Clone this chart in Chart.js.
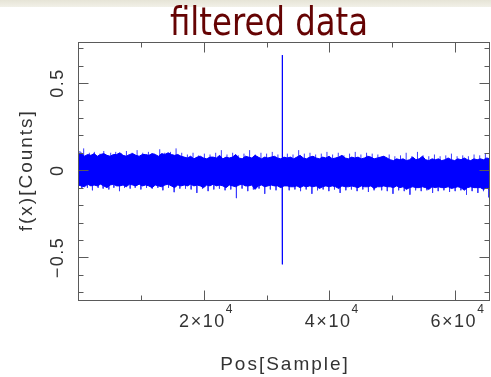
<!DOCTYPE html>
<html>
<head>
<meta charset="utf-8">
<script src="https://cdn.jsdelivr.net/npm/chart.js@4/dist/chart.umd.min.js"></script>
<style>
html,body{margin:0;padding:0;background:#fff;overflow:hidden}
canvas{display:block}
</style>
</head>
<body>
<canvas id="chart" width="491" height="377"></canvas>
<script>
/* ================= DATA ================= */

const chartTitle="filtered data";
const xTitle="Pos[Sample]";
const yTitle="f(x)[Counts]";

const xMin=0, xMax=65536;
const yMin=-0.75, yMax=0.735;

// tick values
const xMajor=[0,20000,40000,60000];
const xMinor=[10000,30000,50000];
const xTickLabels=[{v:20000,m:"2",e:"4"},{v:40000,m:"4",e:"4"},{v:60000,m:"6",e:"4"}];
const yMajor=[-0.5,0,0.5];
const yMinor=[-0.7,-0.6,-0.4,-0.3,-0.2,-0.1,0.1,0.2,0.3,0.4,0.6,0.7];
const yTickLabels=[{v:0.5,t:"0.5"},{v:0,t:"0"},{v:-0.5,t:"\u22120.5"}];

// noise envelope, read column by column across the plot (left -> right)
const bandUpper=[
0.09,0.1,0.08,0.09,0.085,0.095,0.08,0.09,0.095,0.085,0.08,0.09,0.09,0.1,0.085,0.08,0.09,0.095,0.085,0.08,0.09,0.09,0.085,0.095,0.09,0.08,0.095,0.09,0.1,0.09,0.085,0.09,0.08,
0.075,0.07,0.08,0.065,0.075,0.08,0.07,0.065,0.075,0.075,0.07,0.085,0.065,0.075,0.07,0.075,0.09,0.07,0.065,0.08,0.075,0.07,0.085,0.075,0.065,0.075,0.07,0.075,0.08,0.07,0.065,0.075,
0.07,0.075,0.065,0.075,0.085,0.07,0.065,0.075,0.08,0.07,0.065,0.075,0.07,0.08,0.065,0.07,0.075,0.085,0.07,0.065,0.075,0.07,0.075,0.065,0.07,0.08,0.075,0.065,0.07,0.075,0.08,0.07,
0.06,0.055,0.065,0.06,0.065,0.055,0.06,0.075,0.06,0.065,0.08,0.06,0.055,0.065,0.06,0.065,0.055,0.06,0.07,0.06,0.055,0.065,0.06,0.07,0.06,0.055,0.065,0.06,0.065,0.06,0.07,0.065
];
const bandLower=[
-0.085,-0.09,-0.095,-0.08,-0.09,-0.085,-0.09,-0.08,-0.09,-0.1,-0.085,-0.08,-0.09,-0.09,-0.085,-0.095,-0.08,-0.085,-0.09,-0.08,-0.09,-0.085,-0.09,-0.1,-0.085,-0.09,-0.095,-0.085,-0.08,-0.09,-0.1,-0.085,-0.09,
-0.085,-0.09,-0.08,-0.09,-0.085,-0.09,-0.1,-0.085,-0.09,-0.08,-0.09,-0.085,-0.09,-0.1,-0.085,-0.09,-0.095,-0.085,-0.08,-0.09,-0.09,-0.085,-0.11,-0.09,-0.085,-0.095,-0.09,-0.085,-0.09,-0.09,-0.1,-0.09,
-0.09,-0.095,-0.095,-0.09,-0.1,-0.09,-0.095,-0.09,-0.095,-0.09,-0.105,-0.095,-0.09,-0.095,-0.09,-0.095,-0.105,-0.09,-0.095,-0.095,-0.09,-0.095,-0.1,-0.09,-0.095,-0.095,-0.09,-0.105,-0.095,-0.095,-0.09,-0.095,
-0.095,-0.1,-0.09,-0.1,-0.095,-0.11,-0.1,-0.095,-0.1,-0.1,-0.095,-0.1,-0.11,-0.095,-0.1,-0.095,-0.1,-0.1,-0.095,-0.105,-0.1,-0.095,-0.1,-0.115,-0.1,-0.095,-0.1,-0.1,-0.1,-0.11,-0.1,-0.115
];

// single-sample excursions sticking out of the band
const whiskerUpX=[300,900,1800,2600,3500,4100,5200,6000,6900,7700,8600,9400,10300,11200,12100,13000,13800,14700,15600,16500,
17400,18300,19200,20100,21000,21900,22800,23700,24600,25500,26400,27300,28200,29100,30000,30900,31800,
33300,34200,35100,36000,36900,37800,38700,39600,40500,41400,42300,43200,44100,45000,45900,46800,47700,
48600,49500,50400,51300,52200,53100,54000,54900,55800,56700,57600,58500,59400,60300,61200,62100,63000,63900,64800];
const whiskerUpY=[0.11,0.125,0.1,0.105,0.095,0.11,0.1,0.105,0.095,0.11,0.1,0.115,0.1,0.105,0.095,0.12,0.1,0.105,0.125,0.1,
0.09,0.1,0.085,0.095,0.09,0.1,0.115,0.09,0.1,0.085,0.095,0.115,0.09,0.1,0.095,0.105,0.09,
0.095,0.09,0.115,0.095,0.1,0.09,0.095,0.105,0.09,0.1,0.085,0.095,0.105,0.09,0.1,0.095,0.09,
0.08,0.09,0.08,0.085,0.1,0.08,0.105,0.085,0.08,0.09,0.08,0.085,0.095,0.08,0.085,0.08,0.09,0.085,0.095];
const whiskerDnX=[600,1500,2300,3200,4000,4900,5700,6600,7400,8300,9100,10000,10900,11800,12700,13500,14400,15300,16200,
17100,18000,18900,19800,20700,21600,22500,23400,24300,25200,26100,27000,27900,28800,29700,30600,31500,
33600,34500,35400,36300,37200,38100,39000,39900,40800,41700,42600,43500,44400,45300,46200,47100,
48300,49200,50100,51000,51900,52800,53700,54600,55500,56400,57300,58200,59100,60000,60900,61800,62700,63600,64500,65300];
const whiskerDnY=[-0.105,-0.1,-0.115,-0.1,-0.105,-0.11,-0.1,-0.12,-0.1,-0.105,-0.1,-0.11,-0.1,-0.105,-0.1,-0.115,-0.1,-0.126,-0.105,
-0.105,-0.11,-0.13,-0.105,-0.12,-0.11,-0.105,-0.115,-0.11,-0.16,-0.105,-0.12,-0.11,-0.105,-0.135,-0.11,-0.115,
-0.115,-0.11,-0.12,-0.11,-0.135,-0.115,-0.11,-0.12,-0.11,-0.13,-0.115,-0.11,-0.12,-0.11,-0.125,-0.115,
-0.115,-0.12,-0.135,-0.115,-0.12,-0.14,-0.115,-0.12,-0.115,-0.13,-0.12,-0.115,-0.125,-0.12,-0.115,-0.14,-0.12,-0.13,-0.12,-0.155];

// the single spike near the middle
const spikeX=[32470,32500,32500,32500,32530];
const spikeY=[0.02,0.18,0.66,-0.54,-0.02];


/* ================= HELPERS ================= */

const AXIS_COLOR="#5a5a5a";
const TEXT_COLOR="#333333";
const LABEL_FONT='"Liberation Sans", Arial, sans-serif';

function fitText(ctx,text,cx,y,w){
const m=ctx.measureText(text).width;
ctx.save();
ctx.translate(cx,y);
ctx.scale(w/m,1);
ctx.textAlign="center";
ctx.fillText(text,0,0);
ctx.restore();
}

// each excursion becomes its own vertical stroke from the band centre
function whiskerPoints(xs,ys){
const pts=[];
xs.forEach((x,i)=>{
pts.push({x,y:0},{x,y:ys[i]},{x,y:null});
});
return pts;
}

const backdrop={
id:"backdrop",
beforeDraw(chart){
const ctx=chart.ctx;
ctx.save();
ctx.fillStyle="#ffffff";
ctx.fillRect(0,0,chart.width,chart.height);
const g=ctx.createLinearGradient(0,0,0,8);
g.addColorStop(0,"#e6e4d6");
g.addColorStop(1,"#f3f2ea");
ctx.fillStyle=g;
ctx.fillRect(0,0,chart.width,7);
ctx.restore();
}
};

const frame={
id:"frame",
afterDraw(chart){
const ctx=chart.ctx;
const a=chart.chartArea;
const xs=chart.scales.x, ys=chart.scales.y;
const L=Math.round(a.left)+0.5, R=Math.round(a.right)-0.5;
const T=Math.round(a.top)+0.5, B=Math.round(a.bottom)-0.5;

ctx.save();
ctx.strokeStyle=AXIS_COLOR;
ctx.lineWidth=1;
ctx.strokeRect(L,T,R-L,B-T);

ctx.beginPath();
const xt=(v,len)=>{
const px=Math.round(xs.getPixelForValue(v))+0.5;
ctx.moveTo(px,B);ctx.lineTo(px,B-len);
ctx.moveTo(px,T);ctx.lineTo(px,T+len);
};
const yt=(v,len)=>{
const py=Math.round(ys.getPixelForValue(v))+0.5;
ctx.moveTo(L,py);ctx.lineTo(L+len,py);
ctx.moveTo(R,py);ctx.lineTo(R-len,py);
};
xMajor.forEach(v=>xt(v,10));
xMinor.forEach(v=>xt(v,5));
yMajor.forEach(v=>yt(v,10));
yMinor.forEach(v=>yt(v,5));
ctx.stroke();

// x tick labels  (m x 10^e)
ctx.fillStyle=TEXT_COLOR;
ctx.textBaseline="alphabetic";
xTickLabels.forEach(t=>{
const px=xs.getPixelForValue(t.v);
ctx.font="18px "+LABEL_FONT;
ctx.letterSpacing="1.5px";
const main=t.m+"\u00d710";
const w1=ctx.measureText(main).width;
ctx.font="12px "+LABEL_FONT;
ctx.letterSpacing="0px";
const w2=ctx.measureText(t.e).width;
const start=px-(w1+w2)/2+2;
ctx.font="18px "+LABEL_FONT;
ctx.letterSpacing="1.5px";
ctx.textAlign="left";
ctx.fillText(main,start,327);
ctx.font="12px "+LABEL_FONT;
ctx.letterSpacing="0px";
ctx.fillText(t.e,start+w1,313);
});

// y tick labels, rotated
ctx.font="18px "+LABEL_FONT;
ctx.letterSpacing="1.5px";
yTickLabels.forEach(t=>{
const py=ys.getPixelForValue(t.v);
ctx.save();
ctx.translate(63,py);
ctx.rotate(-Math.PI/2);
ctx.textAlign="center";
ctx.fillText(t.t,0,0);
ctx.restore();
});

// axis titles
ctx.font="19px "+LABEL_FONT;
ctx.letterSpacing="2px";
ctx.textAlign="center";
ctx.fillText(xTitle,(a.left+a.right)/2+1,370);

ctx.save();
ctx.translate(32,ys.getPixelForValue(0));
ctx.rotate(-Math.PI/2);
ctx.fillText(yTitle,0,0);
ctx.restore();

// title
ctx.letterSpacing="0px";
ctx.fillStyle="#650303";
ctx.font='39px "DejaVu Sans", sans-serif';
fitText(ctx,chartTitle,269,35,198);

ctx.restore();
}
};


/* ================= CHART ================= */

const bandIndex=bandUpper.map((_,i)=>i);

new Chart(document.getElementById("chart"),{
type:"line",
data:{
labels:bandIndex,
datasets:[
{
label:"upper",
data:bandUpper,
xAxisID:"xb",
borderColor:"#0000ff",
borderWidth:1,
pointRadius:0,
tension:0,
fill:false
},
{
label:"lower",
data:bandLower,
xAxisID:"xb",
borderColor:"#0000ff",
backgroundColor:"#0000ff",
borderWidth:1,
pointRadius:0,
tension:0,
fill:"-1"
},
{
label:"whiskers up",
data:whiskerPoints(whiskerUpX,whiskerUpY),
xAxisID:"x",
borderColor:"#3a3aff",
borderWidth:1,
pointRadius:0,
spanGaps:false,
fill:false
},
{
label:"whiskers down",
data:whiskerPoints(whiskerDnX,whiskerDnY),
xAxisID:"x",
borderColor:"#3a3aff",
borderWidth:1,
pointRadius:0,
spanGaps:false,
fill:false
},
{
label:"spike",
data:spikeX.map((x,i)=>({x,y:spikeY[i]})),
xAxisID:"x",
borderColor:"#0000ff",
borderWidth:1,
pointRadius:0,
tension:0,
fill:false
}
]
},
options:{
responsive:false,
animation:false,
devicePixelRatio:1,
layout:{padding:{left:78,right:1,top:42,bottom:76}},
plugins:{legend:{display:false},tooltip:{enabled:false},title:{display:false}},
scales:{
x:{type:"linear",min:xMin,max:xMax,display:false},
xb:{type:"category",display:false,offset:false},
y:{min:yMin,max:yMax,display:false}
}
},
plugins:[backdrop,frame]
});
</script>
</body>
</html>
